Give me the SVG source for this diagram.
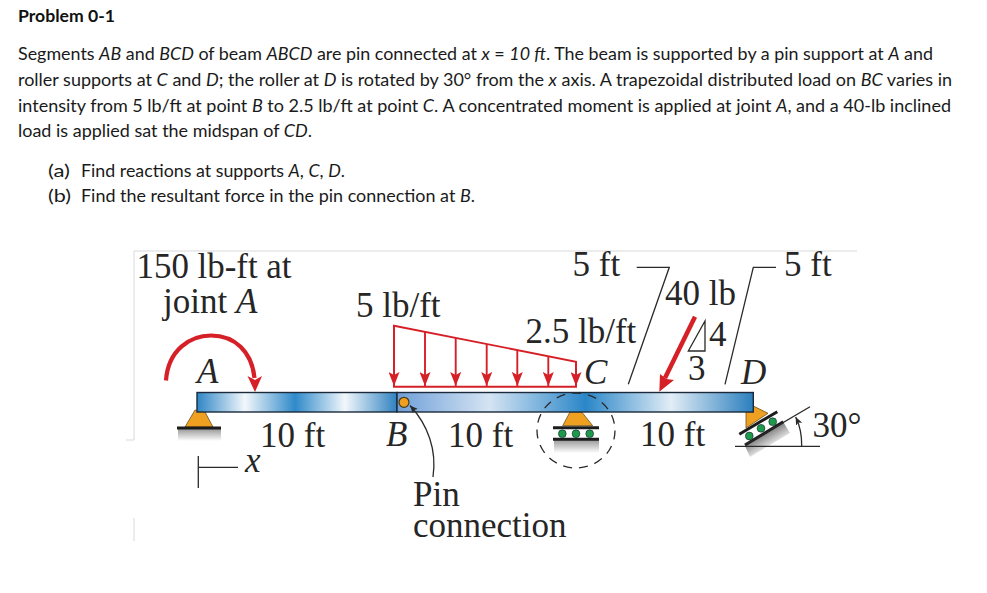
<svg xmlns="http://www.w3.org/2000/svg" width="987" height="593" viewBox="0 0 987 593">
<style>
.b{font-family:"Lato","Open Sans","Liberation Sans",sans-serif;font-size:17.4px;fill:#1a1a1a}
.h{font-weight:700;fill:#111}
.s{font-family:"Liberation Serif","Times New Roman",serif;font-size:35px;fill:#262626}
.i{font-style:italic}
.fr{fill:none;stroke:#d9d9d9;stroke-width:1}
.ld{fill:none;stroke:#2a2a2a;stroke-width:1.3}
.blk{fill:none;stroke:#1c1c1c;stroke-width:3}
.rd{fill:none;stroke:#d62027;stroke-width:1.9}
.tri{fill:#f0a020;stroke:#6a5020;stroke-width:.8}
.rol{fill:#1f9a4a;stroke:#123;stroke-width:.6}
.beam{stroke:#1a2a3a;stroke-width:1.4}
</style>
<defs>
<linearGradient id="gAB" gradientUnits="userSpaceOnUse" x1="197" y1="0" x2="397" y2="0">
<stop offset="0" stop-color="#2f86c6"/><stop offset=".24" stop-color="#f2f7fb"/><stop offset=".49" stop-color="#2f8ac9"/><stop offset=".74" stop-color="#f2f7fb"/><stop offset="1" stop-color="#2f82c0"/>
</linearGradient>
<linearGradient id="gBD" gradientUnits="userSpaceOnUse" x1="397" y1="0" x2="753" y2="0">
<stop offset="0" stop-color="#6f9fd8"/><stop offset=".26" stop-color="#d5e4f3"/><stop offset=".53" stop-color="#2a86c8"/><stop offset=".77" stop-color="#e2edf6"/><stop offset="1" stop-color="#2b7fbe"/>
</linearGradient>
<linearGradient id="gS" x1="0" y1="0" x2="0" y2="1"><stop offset="0" stop-color="#9a9a9a"/><stop offset="1" stop-color="#fff"/></linearGradient>
<linearGradient id="gD" gradientUnits="userSpaceOnUse" x1="762" y1="432" x2="772" y2="449"><stop offset="0" stop-color="#707070"/><stop offset="1" stop-color="#fff"/></linearGradient>
<marker id="mr" markerUnits="userSpaceOnUse" markerWidth="14" markerHeight="11" refX="14" refY="5.500" orient="auto" viewBox="0 0 14 11"><path d="M14 5.500L0 0L3 5.500L0 11Z" fill="#d62027"/></marker>
<marker id="mk" markerUnits="userSpaceOnUse" markerWidth="8" markerHeight="7" refX="8" refY="3.500" orient="auto" viewBox="0 0 8 7"><path d="M0 0L8 3.500L0 7L2 3.500Z" fill="#2a2a2a"/></marker>
</defs>

<g id="problem-text">
<text class="b h" x="18" y="22" textLength="97" lengthAdjust="spacingAndGlyphs">Problem 0-1</text>
<text class="b" x="18" y="60" textLength="915" lengthAdjust="spacingAndGlyphs">Segments <tspan class="i">AB</tspan> and <tspan class="i">BCD</tspan> of beam <tspan class="i">ABCD</tspan> are pin connected at <tspan class="i">x</tspan> = <tspan class="i">10 ft</tspan>. The beam is supported by a pin support at <tspan class="i">A</tspan> and</text>
<text class="b" x="18" y="86" textLength="934" lengthAdjust="spacingAndGlyphs">roller supports at <tspan class="i">C</tspan> and <tspan class="i">D</tspan>; the roller at <tspan class="i">D</tspan> is rotated by 30° from the <tspan class="i">x</tspan> axis. A trapezoidal distributed load on <tspan class="i">BC</tspan> varies in</text>
<text class="b" x="18" y="112" textLength="933" lengthAdjust="spacingAndGlyphs">intensity from 5 lb/ft at point <tspan class="i">B</tspan> to 2.5 lb/ft at point <tspan class="i">C</tspan>. A concentrated moment is applied at joint <tspan class="i">A</tspan>, and a 40-lb inclined</text>
<text class="b" x="18" y="137" textLength="294" lengthAdjust="spacingAndGlyphs">load is applied sat the midspan of <tspan class="i">CD</tspan>.</text>
<text class="b" x="48" y="177" textLength="22" lengthAdjust="spacingAndGlyphs">(a)</text>
<text class="b" x="81" y="177" textLength="264" lengthAdjust="spacingAndGlyphs">Find reactions at supports <tspan class="i">A</tspan>, <tspan class="i">C</tspan>, <tspan class="i">D</tspan>.</text>
<text class="b" x="48" y="202" textLength="23" lengthAdjust="spacingAndGlyphs">(b)</text>
<text class="b" x="81" y="202" textLength="394" lengthAdjust="spacingAndGlyphs">Find the resultant force in the pin connection at <tspan class="i">B</tspan>.</text>
</g>

<g id="frame">
<path class="fr" d="M134 440V251H857M126 440H134M134 518V541"/>
</g>

<g id="support-A">
<rect x="178" y="429" width="43" height="12" fill="url(#gS)"/>
<path class="tri" d="M195 410L185 427H213L205 412Z"/>
<path d="M177 428H221" class="blk"/>
</g>

<g id="support-C">
<rect x="554" y="440" width="45" height="13" fill="url(#gS)"/>
<path class="tri" d="M570 412H581.700L592.700 425.700H562.700Z"/>
<path d="M553 427.700H599M553 439.300H599" class="blk"/>
<circle class="rol" cx="562.300" cy="433.700" r="3.900"/><circle class="rol" cx="576" cy="433.700" r="3.900"/><circle class="rol" cx="589.700" cy="433.700" r="3.900"/>
</g>

<g id="support-D">
<path d="M745 446L783.300 422L790 433L750 457Z" fill="url(#gD)"/>
<path class="tri" d="M746 412V428L768 413.300L753.300 406V412Z"/>
<path d="M739.300 434.300L777.300 411.700M745 445L783.300 421.700" class="blk"/>
<circle class="rol" cx="749.300" cy="436" r="3.900"/><circle class="rol" cx="761" cy="428.300" r="3.900"/><circle class="rol" cx="772.700" cy="421.700" r="3.900"/>
<path class="ld" d="M735 446.300H820M745 445L810 406.700"/>
<path class="ld" d="M801.700 446.300Q802 430 795.700 417" marker-end="url(#mk)"/>
</g>

<g id="beam-AB"><rect class="beam" x="197" y="392.500" width="200" height="19.500" fill="url(#gAB)"/></g>
<g id="beam-BCD"><rect class="beam" x="397" y="392.500" width="356.300" height="19.500" fill="url(#gBD)"/></g>
<g id="pin-B"><circle cx="404" cy="402.300" r="5" fill="#f0a020" stroke="#4a3a10" stroke-width="1.200"/></g>
<g id="detail-circle"><ellipse cx="576" cy="430.500" rx="39" ry="37.500" fill="none" stroke="#2a2a2a" stroke-width="1.300" stroke-dasharray="9 7"/></g>

<g id="connectors">
<path d="M166 380.500C168 350 190 335.500 211 335.500C235 335.500 252 352 254.500 378" fill="none" stroke="#d62027" stroke-width="4.200"/>
<path d="M247.500 376L255 380L262 376L255 392Z" fill="#d62027"/>
<path class="rd" d="M394 325.700L576 361.700V386.700H394Z"/>
<path class="rd" marker-end="url(#mr)" d="M394 325.700V386"/>
<path class="rd" marker-end="url(#mr)" d="M425 332V386"/>
<path class="rd" marker-end="url(#mr)" d="M455.700 338V386"/>
<path class="rd" marker-end="url(#mr)" d="M486.700 344V386"/>
<path class="rd" marker-end="url(#mr)" d="M517.300 350V386"/>
<path class="rd" marker-end="url(#mr)" d="M548.300 356V386"/>
<path class="rd" marker-end="url(#mr)" d="M576 361.700V386"/>
<path d="M695 316.700L665 378" fill="none" stroke="#d62027" stroke-width="4.500"/>
<path d="M659.300 391.700L660 374L666.500 379L674 380Z" fill="#d62027"/>
<path class="ld" d="M636.700 267.300H669.300L628.300 384.300"/>
<path class="ld" d="M776 267.300H753.300L725 384.300"/>
<path class="ld" d="M433 477C437 450 428 425 410 405.500" marker-end="url(#mk)"/>
<path class="ld" d="M198.300 456V488M198.300 467.300H238"/>
<path class="ld" d="M705 321V351H688.300Z"/>
</g>

<g id="labels">
<text class="s" x="136.500" y="278" textLength="155" lengthAdjust="spacingAndGlyphs">150 lb-ft at</text>
<text class="s" x="163" y="312.500">joint <tspan class="i">A</tspan></text>
<text class="s" x="356" y="316.500">5 lb/ft</text>
<text class="s" x="572.500" y="276">5 ft</text>
<text class="s" x="784" y="276">5 ft</text>
<text class="s" x="665" y="305">40 lb</text>
<text class="s" x="525.500" y="343.300">2.5 lb/ft</text>
<text class="s i" x="197" y="383">A</text>
<text class="s i" x="584" y="384">C</text>
<text class="s i" x="741" y="384">D</text>
<text class="s i" x="386" y="446">B</text>
<text class="s" x="709" y="346">4</text>
<text class="s" x="688" y="380">3</text>
<text class="s" x="260" y="447">10 ft</text>
<text class="s" x="448" y="446.500">10 ft</text>
<text class="s" x="640" y="445.500">10 ft</text>
<text class="s i" x="245" y="471.500">x</text>
<text class="s" x="413" y="506">Pin</text>
<text class="s" x="413" y="536.500">connection</text>
<text class="s" x="812.500" y="436.500">30°</text>
</g>
</svg>
